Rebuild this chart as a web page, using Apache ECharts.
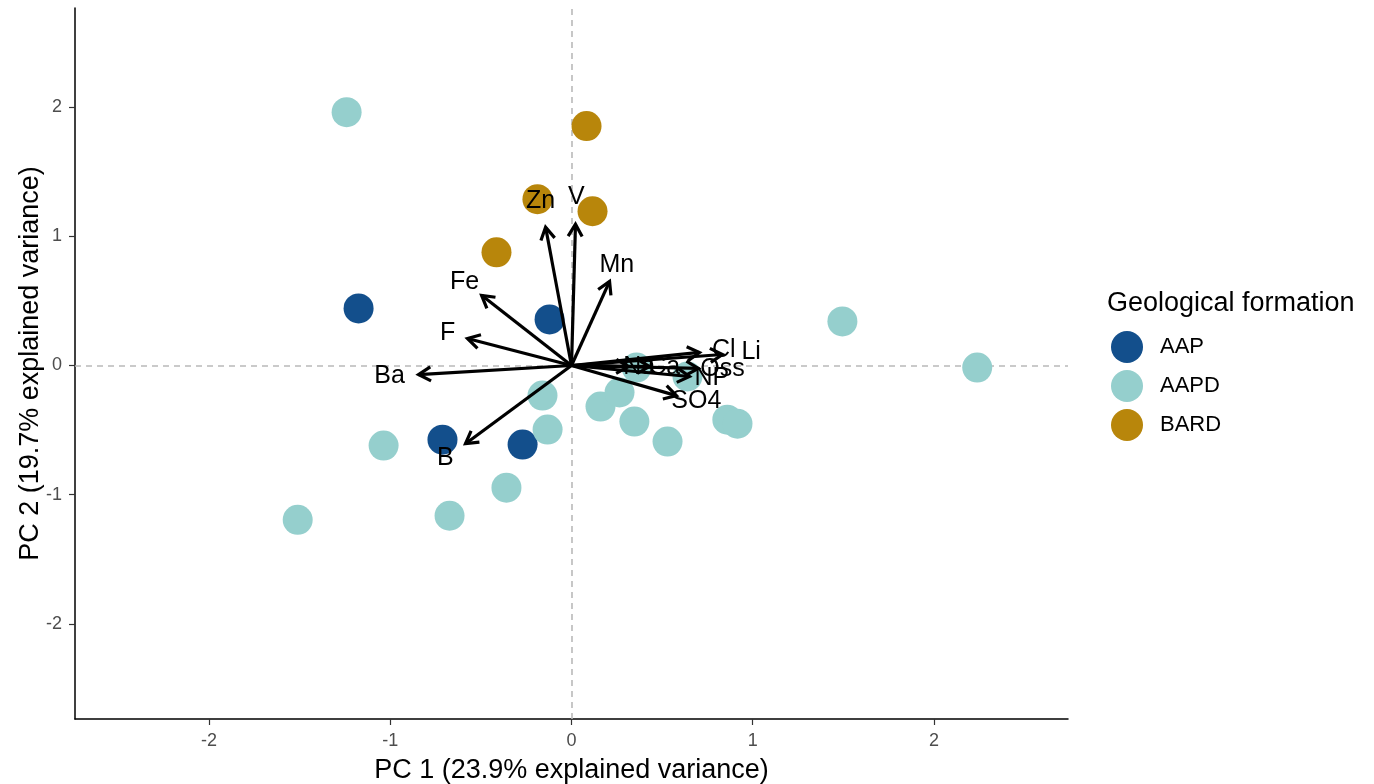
<!DOCTYPE html>
<html>
<head>
<meta charset="utf-8">
<title>PCA biplot</title>
<script src="https://cdn.jsdelivr.net/npm/echarts@6/dist/echarts.min.js"></script>
<style>
  html, body { margin: 0; padding: 0; background: #fff; }
  #chart { width: 1374px; height: 784px; }
</style>
</head>
<body>
<div id="chart"></div>
<script>
// PCA scores per geological formation: [PC1, PC2]
const scoresAAP = [[-1.175, 0.442], [-0.121, 0.357], [-0.712, -0.574], [-0.270, -0.612]];
const scoresAAPD = [
  [-1.241, 1.961], [1.495, 0.341], [2.239, -0.016], [-1.511, -1.194], [-1.037, -0.620],
  [-0.673, -1.163], [-0.359, -0.946], [-0.160, -0.233], [-0.132, -0.496], [0.160, -0.318],
  [0.265, -0.209], [0.347, -0.434], [0.530, -0.589], [0.359, -0.016], [0.640, -0.085],
  [0.860, -0.419], [0.916, -0.450]
];
const scoresBARD = [[0.083, 1.853], [-0.188, 1.287], [0.116, 1.194], [-0.414, 0.876]];

// Variable loadings (arrow tips) on PC1 / PC2
const varNames = ['Na', 'Ca', 'Zn', 'V', 'Mn', 'Fe', 'F', 'Ba', 'B', 'Cl', 'Li', 'Oss', 'NP', 'SO4'];
const loadPC1 = [0.314, 0.430, -0.143, 0.022, 0.210, -0.496, -0.574, -0.844, -0.585, 0.706, 0.833, 0.700, 0.651, 0.579];
const loadPC2 = [-0.008, -0.008, 1.070, 1.093, 0.651, 0.543, 0.209, -0.070, -0.605, 0.101, 0.085, -0.023, -0.085, -0.233];

const groupNames = ['AAP', 'AAPD', 'BARD'];
const groupColors = ['#134f8c', '#95cfcd', '#b8860b'];
const tickValues = [-2, -1, 0, 1, 2];
const xTitle = 'PC 1 (23.9% explained variance)';
const yTitle = 'PC 2 (19.7% explained variance)';
const legendTitle = 'Geological formation';

const FONT = '"Liberation Sans", Arial, sans-serif';
const LABEL_SCALE = 1.19;

const arrowData = varNames.map((n, i) => [loadPC1[i], loadPC2[i], n]);

function renderArrow(params, api) {
  const x = api.value(0), y = api.value(1);
  const o = api.coord([0, 0]);
  const t = api.coord([x, y]);
  const ang = Math.atan2(t[1] - o[1], t[0] - o[0]);
  const head = 14, spread = Math.PI / 6;
  const p1 = [t[0] - head * Math.cos(ang - spread), t[1] - head * Math.sin(ang - spread)];
  const p2 = [t[0] - head * Math.cos(ang + spread), t[1] - head * Math.sin(ang + spread)];
  const style = { stroke: '#000', lineWidth: 3.2, fill: null, lineCap: 'butt', lineJoin: 'miter' };
  return {
    type: 'group',
    children: [
      { type: 'line', shape: { x1: o[0], y1: o[1], x2: t[0], y2: t[1] }, style: style },
      { type: 'polyline', shape: { points: [p1, t, p2] }, style: style }
    ]
  };
}

function renderVarLabel(params, api) {
  const x = api.value(0), y = api.value(1);
  const p = api.coord([x * LABEL_SCALE, y * LABEL_SCALE]);
  return {
    type: 'text',
    x: p[0], y: p[1],
    style: {
      text: varNames[params.dataIndex],
      fill: '#000',
      font: '25px ' + FONT,
      align: 'center',
      verticalAlign: 'middle'
    }
  };
}

const chart = echarts.init(document.getElementById('chart'), null, { renderer: 'canvas' });

const axisCommon = {
  type: 'value',
  splitLine: { show: false },
  axisLine: { show: true, onZero: false, lineStyle: { color: '#000', width: 1.5 } },
  axisTick: { show: true, length: 6, customValues: tickValues, lineStyle: { color: '#333', width: 1.2 } },
  axisLabel: {
    customValues: tickValues,
    color: '#4d4d4d',
    fontSize: 18,
    fontFamily: FONT,
    margin: 13
  },
  nameLocation: 'middle',
  nameMoveOverlap: false,
  nameTextStyle: { color: '#000', fontSize: 27, fontFamily: FONT }
};

chart.setOption({
  animation: false,
  backgroundColor: '#fff',
  title: {
    text: legendTitle,
    left: 1102,
    top: 285,
    textStyle: { fontSize: 27, fontWeight: 'normal', color: '#000', fontFamily: FONT }
  },
  legend: {
    data: groupNames,
    orient: 'vertical',
    left: 1106,
    top: 326,
    icon: 'circle',
    itemWidth: 32,
    itemHeight: 32,
    itemGap: 7,
    textStyle: { fontSize: 22, color: '#000', fontFamily: FONT, padding: [0, 0, 0, 12] }
  },
  grid: {
    left: 75, right: 306, top: 8, bottom: 65,
    containLabel: false,
    outerBoundsMode: 'none'
  },
  xAxis: Object.assign({}, axisCommon, {
    min: -2.74, max: 2.74, name: xTitle, nameGap: 38
  }),
  yAxis: Object.assign({}, axisCommon, {
    min: -2.736, max: 2.767, name: yTitle, nameGap: 31
  }),
  series: [
    {
      name: groupNames[0], type: 'scatter', data: scoresAAP, symbolSize: 30,
      itemStyle: { color: groupColors[0], opacity: 1 }, z: 3,
      markLine: {
        silent: true, symbol: 'none', animation: false,
        label: { show: false },
        lineStyle: { color: '#b9b9b9', type: [6, 5], width: 1.6 },
        data: [{ xAxis: 0 }, { yAxis: 0 }],
        z: 1
      }
    },
    {
      name: groupNames[1], type: 'scatter', data: scoresAAPD, symbolSize: 30,
      itemStyle: { color: groupColors[1], opacity: 1 }, z: 3
    },
    {
      name: groupNames[2], type: 'scatter', data: scoresBARD, symbolSize: 30,
      itemStyle: { color: groupColors[2], opacity: 1 }, z: 3
    },
    {
      type: 'custom', name: 'loadings', data: arrowData, renderItem: renderArrow,
      silent: true, z: 5, clip: false
    },
    {
      type: 'custom', name: 'loadingLabels', data: arrowData, renderItem: renderVarLabel,
      silent: true, z: 6, clip: false
    }
  ]
});
</script>
</body>
</html>
